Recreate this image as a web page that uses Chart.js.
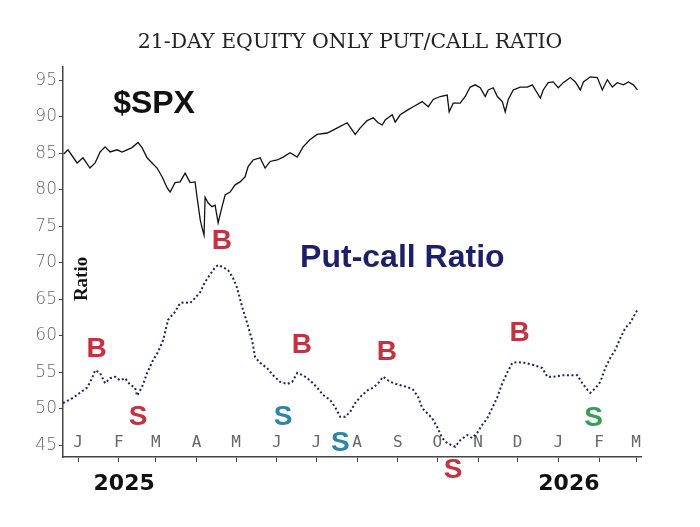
<!DOCTYPE html>
<html>
<head>
<meta charset="utf-8">
<script src="https://cdn.jsdelivr.net/npm/chart.js@4"></script>
<style>
  html, body { margin: 0; padding: 0; background: #fff; }
  #wrap { width: 700px; height: 527px; }
</style>
</head>
<body>
<div id="wrap"><canvas id="chart"></canvas></div>
<script>
// x values are calendar days counted from 1 Jan 2025
const monthDays = [0, 31, 59, 90, 120, 151, 181, 212, 243, 273, 304, 334, 365, 396, 424];
const monthLabels = ['J', 'F', 'M', 'A', 'M', 'J', 'J', 'A', 'S', 'O', 'N', 'D', 'J', 'F', 'M'];
const yTicks = [45, 50, 55, 60, 65, 70, 75, 80, 85, 90, 95];
const yearLabels = ['2025', '2026'];
const yearDays = [35, 373];

// $SPX, rescaled onto the ratio axis
const spxDays = [-11, -10, -7.7, -0.8, 3.7, 9, 12.9, 16.7, 20.5, 24.3, 29.6, 33.4, 37.2, 41, 45.5, 48.6, 52.4, 56.2, 60,
  63.8, 67.6, 69.9, 73.7, 77.5, 81.3, 85.1, 88.9, 90.4, 92.8, 94.2, 95.7, 96.5, 98.8, 101.8, 104.1, 106.4, 109.4,
  111.7, 115.5, 119.3, 123.1, 126.9, 129.2, 133, 138.3, 142.1, 145.9, 151.3, 155.8, 161.1, 166.5, 171, 176.3,
  181.7, 189.3, 193.8, 199.2, 204.5, 210.6, 214.4, 219.7, 224.3, 228, 231.1, 233.4, 238.7, 241, 244.8, 250.9,
  254.7, 261.5, 266.1, 269.9, 275.2, 280.5, 282, 285.1, 290.4, 294.2, 298, 301.8, 305.6, 309.4, 311.7, 315.5,
  318.6, 322.4, 324.6, 326.9, 330.7, 336, 341.4, 345.2, 347.5, 351.3, 353.5, 357.3, 361.1, 364.9, 368.7, 374.1,
  377.9, 381.7, 384, 389.3, 394.6, 398.4, 402.2, 406, 409.8, 414.4, 418.2, 422, 425.1];
const spxValues = [84.9, 85.1, 85.5, 83.7, 84.4, 83.0, 83.7, 85.2, 85.9, 85.2, 85.5, 85.2, 85.5, 85.8, 86.5, 85.8, 84.4, 83.7, 83.0,
  81.8, 80.3, 79.7, 81.0, 81.1, 82.3, 81.0, 81.1, 79.0, 75.9, 74.8, 73.8, 79.0, 78.2, 77.7, 77.9, 75.5, 77.7,
  79.3, 79.7, 80.7, 81.1, 81.8, 83.2, 84.1, 84.4, 83.0, 83.9, 84.1, 84.5, 85.1, 84.5, 85.9, 86.9,
  87.6, 87.8, 88.2, 88.7, 89.2, 87.6, 88.5, 89.5, 89.9, 89.2, 88.9, 89.6, 90.3, 89.3, 90.3, 91.0,
  91.4, 92.1, 91.4, 92.4, 92.8, 93.0, 90.7, 91.9, 91.9, 92.8, 94.1, 94.4, 94.0, 92.8, 93.7, 94.0,
  92.8, 92.1, 90.7, 92.4, 93.7, 94.1, 94.1, 94.4, 93.7, 92.6, 93.7, 94.7, 94.8, 94.0, 94.7, 95.4,
  94.8, 93.7, 94.8, 95.5, 95.4, 93.7, 95.1, 94.1, 94.7, 94.4, 94.8, 94.4, 93.7];

// 21-day equity-only put/call ratio (x100)
const ratioDays = [-11.5, -3.9, 1.4, 6.8, 10.6, 12.9, 16.7, 20.5, 24.3, 28, 31.9, 35.7, 39.5, 43.3, 44.8, 48.6, 52.4,
  57, 60.8, 64.6, 68.4, 73.7, 77.5, 81.3, 85.1, 88.9, 92.8, 96.5, 100.3, 104.1, 106.4, 110.2, 114, 117.8, 120.8,
  124.6, 128.4, 132.2, 134.5, 138.3, 143.6, 148.2, 153.5, 158.9, 162.7, 166.5, 171, 176.3, 181.7, 186.2, 191.6,
  195.4, 199.2, 203, 206.8, 210.6, 215.9, 220.5, 224.3, 228, 231.8, 237.2, 243.3, 250.1, 254.7, 258.5, 261.5,
  265.3, 269.1, 272.9, 276.7, 280.5, 286.6, 290.4, 295.7, 299.5, 303.3, 307.1, 310.9, 314.7, 318.6, 322.4,
  326.2, 330, 334.5, 339.9, 346, 352.8, 356.6, 361.1, 368, 374.1, 379.4, 383.2, 387.1, 389.3, 393.1, 396.9,
  400.7, 404.5, 408.3, 412.1, 415.9, 419.7, 425.1];
const ratioValues = [50.8, 51.5, 52.2, 52.9, 54.2, 55.3, 54.9, 53.5, 54.2, 54.4, 53.9, 54.2, 53.3, 52.9, 51.8, 53.0, 54.9,
  56.7, 57.8, 59.4, 62.2, 63.3, 64.5, 64.6, 64.5, 65.2, 66.0, 67.4, 68.4, 69.4, 69.7, 69.4, 69.0, 67.9, 66.6,
  64.0, 61.8, 59.4, 57.1, 56.3, 55.6, 54.6, 53.7, 53.4, 53.7, 54.9, 54.6, 53.9, 52.9, 51.9, 51.2,
  50.2, 48.9, 48.9, 49.6, 50.8, 51.9, 52.6, 52.9, 53.5, 54.4, 53.7, 53.3, 53.0, 52.6, 51.6, 50.1,
  49.4, 48.7, 47.5, 46.0, 45.3, 44.8, 45.7, 46.4, 46.0, 46.7, 47.8, 48.7, 50.1, 51.6, 53.5,
  55.0, 56.3, 56.4, 56.3, 56.0, 55.6, 54.4, 54.4, 54.6, 54.6, 54.6, 53.5, 52.6, 52.2, 52.8, 53.7,
  55.6, 57.0, 58.1, 59.7, 61.1, 61.8, 63.6];

// buy / sell signals
const signalText = ['B', 'S', 'B', 'S', 'B', 'S', 'B', 'S', 'B', 'S'];
const signalDays = [14.1, 45.6, 109.2, 155.8, 170, 199.2, 234.7, 284.9, 335.5, 391.8];
const signalValues = [58.2, 48.9, 72.9, 48.9, 58.7, 45.3, 57.8, 41.6, 60.4, 48.7];
const signalColors = ['#c3323d', '#c3323d', '#c3323d', '#2b85a6', '#c3323d', '#2b85a6', '#c3323d', '#c3323d', '#c3323d', '#3a9d55'];

const textPlugin = {
  id: 'texts',
  afterDatasetsDraw(chart) {
    const ctx = chart.ctx;
    const xs = chart.scales.x, ys = chart.scales.y;
    ctx.save();
    ctx.textBaseline = 'middle';

    ctx.fillStyle = '#111';
    ctx.textAlign = 'left';
    ctx.font = 'bold 32px "Liberation Sans", Arial, sans-serif';
    ctx.fillText('$SPX', xs.getPixelForValue(26.6), ys.getPixelForValue(91.8));

    ctx.fillStyle = '#1c1f6b';
    ctx.font = 'bold 32px "Liberation Sans", Arial, sans-serif';
    ctx.fillText('Put-call Ratio', xs.getPixelForValue(168.7), ys.getPixelForValue(70.7));

    ctx.save();
    ctx.translate(xs.getPixelForValue(2.9), ys.getPixelForValue(67.8));
    ctx.rotate(-Math.PI / 2);
    ctx.textAlign = 'center';
    ctx.fillStyle = '#111';
    ctx.font = 'bold 19px "Liberation Serif", serif';
    ctx.fillText('Ratio', 0, 0);
    ctx.restore();

    ctx.textAlign = 'center';
    ctx.font = 'bold 28px "Liberation Sans", Arial, sans-serif';
    signalText.forEach((t, i) => {
      ctx.fillStyle = signalColors[i];
      ctx.fillText(t, xs.getPixelForValue(signalDays[i]), ys.getPixelForValue(signalValues[i]));
    });

    ctx.fillStyle = '#111';
    ctx.font = 'bold 22px "DejaVu Sans", sans-serif';
    yearLabels.forEach((t, i) => {
      ctx.fillText(t, xs.getPixelForValue(yearDays[i]), xs.bottom - 43);
    });
    ctx.restore();
  }
};

const ctx = document.getElementById('chart').getContext('2d');
const myChart = new Chart(ctx, {
  type: 'line',
  data: {
    datasets: [
      {
        label: '$SPX',
        data: spxDays.map((d, i) => ({ x: d, y: spxValues[i] })),
        borderColor: '#111',
        borderWidth: 1.3,
        pointRadius: 0,
        fill: false
      },
      {
        label: 'Put-call Ratio',
        data: ratioDays.map((d, i) => ({ x: d, y: ratioValues[i] })),
        borderColor: '#1c1f6b',
        borderWidth: 2,
        borderDash: [2, 2.5],
        pointRadius: 0,
        fill: false
      }
    ]
  },
  options: {
    responsive: true,
    maintainAspectRatio: false,
    animation: false,
    layout: { padding: 0 },
    plugins: {
      legend: { display: false },
      tooltip: { enabled: false },
      title: {
        display: true,
        text: '21-DAY EQUITY ONLY PUT/CALL RATIO',
        color: '#222',
        font: { family: '"DejaVu Serif", serif', size: 20.5, weight: 'normal' },
        padding: { top: 30, bottom: 12 }
      }
    },
    scales: {
      x: {
        type: 'linear',
        min: -11.5,
        max: 427.8,
        afterBuildTicks: axis => { axis.ticks = monthDays.map(v => ({ value: v })); },
        afterFit: axis => { axis.height = 70; },
        ticks: {
          autoSkip: false,
          maxRotation: 0,
          mirror: true,
          padding: 5,
          color: '#666',
          font: { family: '"DejaVu Sans Mono", monospace', size: 16 },
          callback: (v, i) => monthLabels[i]
        },
        grid: { drawOnChartArea: false, drawTicks: true, tickLength: 5, color: '#444' },
        border: { color: '#444', width: 1.5 }
      },
      y: {
        min: 43.4,
        max: 96.9,
        afterBuildTicks: axis => { axis.ticks = yTicks.map(v => ({ value: v })); },
        afterFit: axis => { axis.width = 63; },
        ticks: {
          padding: 2,
          color: '#666',
          font: { family: '"DejaVu Sans", sans-serif', size: 17, weight: 200 }
        },
        grid: { drawOnChartArea: false, drawTicks: true, tickLength: 4, color: '#444' },
        border: { color: '#444', width: 1.5 }
      },
      // empty right-hand axis, only reserves the white margin
      yRight: {
        position: 'right',
        display: true,
        afterFit: axis => { axis.width = 59; },
        ticks: { display: false },
        grid: { display: false },
        border: { display: false }
      }
    }
  },
  plugins: [textPlugin]
});
</script>
</body>
</html>
